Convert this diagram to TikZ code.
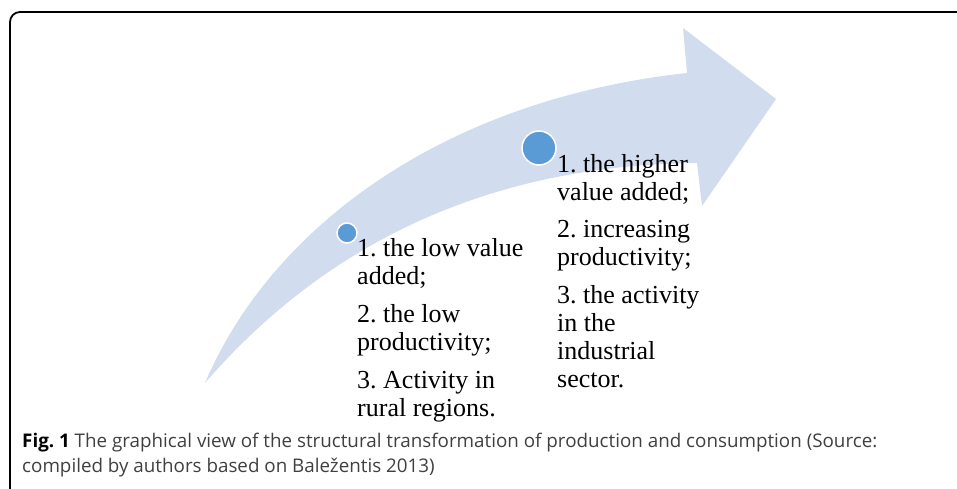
\documentclass[tikz,border=0pt]{standalone}
\usepackage{fontspec}
\setmainfont{Liberation Serif}
\newfontfamily\capfont{Open Sans}
\definecolor{arrowfill}{HTML}{D1DCEE}
\definecolor{dotfill}{HTML}{5B9BD5}
\definecolor{captext}{HTML}{404040}
\tikzset{
  listtext/.style={anchor=north west, inner sep=0pt, align=left,
    font=\fontsize{26}{28}\selectfont\frenchspacing, text=black},
  dot/.style={circle, fill=dotfill, draw=white, line width=1.5pt, inner sep=0pt},
  captxt/.style={anchor=base west, inner sep=0pt,
    font=\capfont\fontsize{18.8}{25}\selectfont\frenchspacing, text=captext}
}
\begin{document}
\begin{tikzpicture}[x=1pt,y=-1pt]
\useasboundingbox (0,0) rectangle (957,489);
% frame
\draw[line width=1.8pt, rounded corners=10pt] (965,12) -- (10,12) -- (10,495);
% arrow
\fill[arrowfill] (205,383) .. controls (270,230) and (440,100) .. (687,73)
  -- (683,28) -- (776,99) -- (702,206) -- (697,163)
  .. controls (480,165) and (320,250) .. (205,383) -- cycle;
% dots
\node[dot, minimum size=20pt] (d1) at (347,233) {};
\node[dot, minimum size=34pt] (d2) at (539,148) {};
% texts
\node[listtext] (t1) at (357,238) {1. the low value\\added;\\[10pt]2. the low\\productivity;\\[10pt]3. Activity in\\rural regions.};
\node[listtext] (t2) at (557,154) {1. the higher\\value added;\\[9pt]2. increasing\\productivity;\\[10pt]3. the activity\\in the\\industrial\\sector.};
% caption
\node[captxt] (c1) at (22,447) {{\color{black}\bfseries Fig. 1} The graphical view of the structural transformation of production and consumption (Source:};
\node[captxt] (c2) at (22,472) {compiled by authors based on Baležentis 2013)};
\end{tikzpicture}
\end{document}
